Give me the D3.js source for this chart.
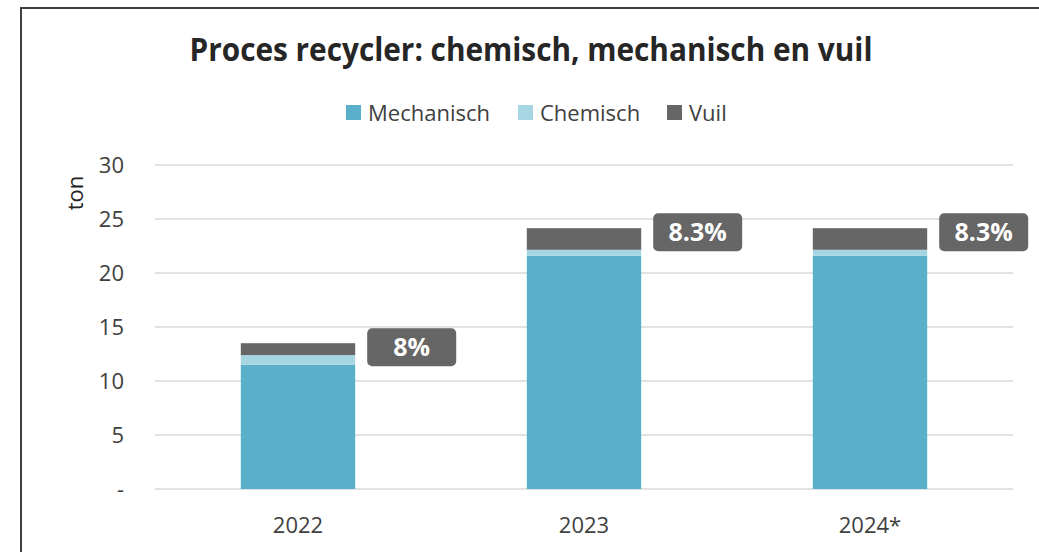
<!DOCTYPE html>
<html><head><meta charset="utf-8">
<script src="https://cdn.jsdelivr.net/npm/d3@7"></script>
<style>body{margin:0;background:#fff}svg{display:block}</style>
</head><body><svg id="c" width="1039" height="552"></svg>
<script>
const categories = ["2022", "2023", "2024*"];
const mechanisch = [11.5, 21.6, 21.6];
const chemisch = [0.9, 0.55, 0.55];
const vuil = [1.1, 2.0, 2.0];
const labels = ["8%", "8.3%", "8.3%"];
const seriesNames = ["Mechanisch", "Chemisch", "Vuil"];
const colors = ["#5AAFCB", "#A6D5E4", "#666666"];
const yTicks = [0, 5, 10, 15, 20, 25, 30];

const svg = d3.select("#c");
const font = "'Open Sans', 'Noto Sans', sans-serif";
const textCol = "#404040";

// outer border
svg.append("rect").attr("x", 21).attr("y", 8).attr("width", 1040).attr("height", 560)
  .attr("fill", "none").attr("stroke", "#404040").attr("stroke-width", 2);

const m = {left: 155, right: 1013, top: 165, bottom: 489};
const x = d3.scaleBand().domain(categories).range([m.left, m.right]).paddingInner(0.6).paddingOuter(0.3);
const y = d3.scaleLinear().domain([0, 30]).range([m.bottom, m.top]);

// gridlines
svg.append("g").selectAll("line").data(yTicks).join("line")
  .attr("x1", m.left).attr("x2", m.right)
  .attr("y1", d => y(d)).attr("y2", d => y(d))
  .attr("stroke", "#d9d9d9").attr("stroke-width", 1.5);

// y axis labels
const yAxis = d3.axisLeft(y).tickValues(yTicks).tickSize(0).tickPadding(0)
  .tickFormat(d => d === 0 ? "-" : d);
const ya = svg.append("g").attr("transform", `translate(124,0)`).call(yAxis);
ya.select(".domain").remove();
ya.selectAll("text").attr("font-family", font).attr("font-size", 22).attr("fill", textCol).attr("dy", "0.36em");

// x axis labels
const xAxis = d3.axisBottom(x).tickSize(0).tickPadding(0);
const xa = svg.append("g").attr("transform", `translate(0,533)`).call(xAxis);
xa.select(".domain").remove();
xa.selectAll("text").attr("font-family", font).attr("font-size", 22).attr("fill", textCol).attr("y", 0).attr("dy", "0");

// stacked bars
const rows = categories.map((c, i) => ({cat: c, Mechanisch: mechanisch[i], Chemisch: chemisch[i], Vuil: vuil[i]}));
const stack = d3.stack().keys(seriesNames)(rows);
svg.append("g").selectAll("g").data(stack).join("g")
  .attr("fill", (d, i) => colors[i])
  .selectAll("rect").data(d => d).join("rect")
  .attr("x", d => x(d.data.cat)).attr("width", x.bandwidth())
  .attr("y", d => y(d[1])).attr("height", d => y(d[0]) - y(d[1]));

// percentage labels
const lg = svg.append("g");
rows.forEach((r, i) => {
  const total = r.Mechanisch + r.Chemisch + r.Vuil;
  const bx = x(r.cat) + x.bandwidth() + 12;
  const cy = y(total) + 4;
  const w = 89, h = 38;
  lg.append("rect").attr("x", bx).attr("y", cy - h / 2).attr("width", w).attr("height", h)
    .attr("rx", 5).attr("fill", "#666666");
  lg.append("text").attr("x", bx + w / 2).attr("y", cy).attr("dy", "0.36em")
    .attr("text-anchor", "middle").attr("font-family", font).attr("font-weight", "bold")
    .attr("font-size", 25).attr("fill", "#fff").text(labels[i]);
});

// y axis title
svg.append("text").attr("transform", "translate(83,193) rotate(-90)")
  .attr("text-anchor", "middle").attr("font-family", font).attr("font-size", 22)
  .attr("fill", "#222").text("ton");

// title
svg.append("text").attr("x", 531).attr("y", 61).attr("text-anchor", "middle")
  .attr("font-family", font).attr("font-weight", "bold").attr("font-size", 32)
  .attr("fill", "#262626").attr("textLength", 683).attr("lengthAdjust", "spacingAndGlyphs")
  .text("Proces recycler: chemisch, mechanisch en vuil");

// legend
const legX = [346, 518, 667];
const leg = svg.append("g");
seriesNames.forEach((s, i) => {
  leg.append("rect").attr("x", legX[i]).attr("y", 105).attr("width", 15).attr("height", 15).attr("fill", colors[i]);
  leg.append("text").attr("x", legX[i] + 22).attr("y", 121)
    .attr("font-family", font).attr("font-size", 22).attr("fill", textCol).text(s);
});
</script></body></html>
